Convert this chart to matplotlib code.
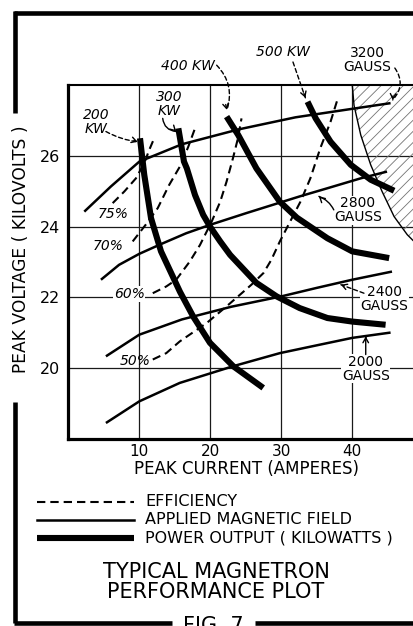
import matplotlib
matplotlib.use('Agg')
import matplotlib.pyplot as plt
from matplotlib.lines import Line2D

plt.rcParams['font.family'] = ['DejaVu Sans']
plt.rcParams['hatch.linewidth'] = 0.6

# ---------------- data ----------------
x_ticks = [10, 20, 30, 40]
y_ticks = [20, 22, 24, 26]

# applied magnetic field (gauss) curves: x = peak current (A), y = peak voltage (kV)
g3200_x = [2.25, 6.0, 10.0, 16.0, 24.0, 32.0, 39.0, 45.4]
g3200_y = [24.42, 25.13, 25.83, 26.32, 26.74, 27.08, 27.29, 27.48]
g2800_x = [4.6, 7.15, 10.0, 13.0, 16.6, 20.0, 25.1, 32.6, 36.5, 41.2, 44.9]
g2800_y = [22.5, 22.92, 23.23, 23.5, 23.81, 24.05, 24.38, 24.85, 25.08, 25.36, 25.55]
g2400_x = [5.3, 10.0, 16.0, 23.0, 30.0, 35.0, 40.0, 45.6]
g2400_y = [20.34, 20.95, 21.38, 21.74, 22.03, 22.27, 22.5, 22.73]
g2000_x = [5.3, 10.0, 15.7, 23.2, 29.8, 35.0, 40.0, 45.4]
g2000_y = [18.46, 19.07, 19.59, 20.06, 20.43, 20.65, 20.86, 21.01]

# efficiency curves
e75_x = [6.25, 7.9, 9.53, 10.7, 11.4, 12.1]
e75_y = [24.66, 24.99, 25.36, 25.79, 26.16, 26.49]
e70_x = [9.07, 10.9, 12.6, 14.2, 15.8, 16.9, 17.85]
e70_y = [23.58, 24.05, 24.52, 25.17, 25.72, 26.25, 26.77]
e60_x = [11.9, 13.8, 15.2, 17.1, 18.55, 20.2, 21.4, 22.3, 23.2, 23.9, 24.4]
e60_y = [22.12, 22.31, 22.5, 23.01, 23.48, 24.14, 24.70, 25.27, 25.93, 26.49, 27.05]
e50_x = [11.9, 13.8, 15.7, 19.5, 22.3, 24.2, 25.8, 27.5, 28.6, 29.8, 32.7, 34.1, 35.5, 36.95, 37.9]
e50_y = [20.25, 20.43, 20.76, 21.28, 21.75, 22.08, 22.36, 22.69, 23.06, 23.58, 24.70, 25.36, 26.21, 26.96, 27.57]

# power output (kW) curves
p200_x = [10.1, 10.7, 11.65, 13.06, 15.73, 17.6, 19.96, 23.24, 27.46]
p200_y = [26.49, 25.46, 24.24, 23.30, 22.16, 21.46, 20.72, 20.06, 19.45]
p300_x = [15.5, 16.3, 16.7, 17.85, 19.0, 19.96, 21.4, 22.8, 26.5, 29.35, 32.6, 36.5, 40.0, 44.7]
p300_y = [26.77, 25.83, 25.64, 24.89, 24.33, 24.0, 23.58, 23.20, 22.41, 22.03, 21.70, 21.42, 21.32, 21.23]
p400_x = [22.3, 23.94, 26.5, 29.8, 32.2, 36.5, 40.0, 45.2]
p400_y = [27.10, 26.58, 25.64, 24.70, 24.25, 23.67, 23.30, 23.11]
p500_x = [33.7, 34.85, 36.95, 39.8, 42.6, 45.9]
p500_y = [27.52, 27.05, 26.39, 25.74, 25.32, 25.01]

# hatched (forbidden) region boundary
lim_x = [40.0, 40.25, 41.2, 42.6, 44.2, 45.9, 47.75, 48.7]
lim_y = [28.0, 27.42, 26.58, 25.74, 24.99, 24.28, 23.77, 23.58]

# ---------------- figure ----------------
W, H = 414, 626
fig = plt.figure(figsize=(W / 100, H / 100), dpi=100)


def fx(px):
    return px / W


def fy(py):
    return 1 - py / H


ax = fig.add_axes([fx(68.3), fy(439.3), fx(414) - fx(68.3), fy(84.7) - fy(439.3)])
ax.set_xlim(0, 48.7)
ax.set_ylim(18, 28)
ax.set_xticks(x_ticks)
ax.set_yticks(y_ticks)
ax.tick_params(axis='x', length=0, labelsize=11, pad=3.5)
ax.tick_params(axis='y', length=0, labelsize=11.5, pad=6)
ax.grid(True, color='0.1', lw=0.9, zorder=0.5)
ax.set_axisbelow(True)
ax.spines['right'].set_visible(False)
ax.spines['left'].set_linewidth(2.3)
ax.spines['bottom'].set_linewidth(2.3)
ax.spines['top'].set_linewidth(1.5)

# hatched region
ax.fill_betweenx(lim_y, lim_x, 50, facecolor='none', edgecolor='0.45',
                 hatch='///', linewidth=0, zorder=1)
ax.plot(lim_x, lim_y, color='k', lw=1.0, zorder=1.5)

thin = dict(color='k', lw=1.8, solid_capstyle='butt', solid_joinstyle='round', zorder=2)
dash = dict(color='k', lw=1.5, linestyle=(0, (4, 2.4)), dash_capstyle='butt', zorder=2)
thick = dict(color='k', lw=4.4, solid_capstyle='butt', solid_joinstyle='round', zorder=3)

for xs, ys in [(g3200_x, g3200_y), (g2800_x, g2800_y), (g2400_x, g2400_y), (g2000_x, g2000_y)]:
    ax.plot(xs, ys, **thin)
for xs, ys in [(e75_x, e75_y), (e70_x, e70_y), (e60_x, e60_y), (e50_x, e50_y)]:
    ax.plot(xs, ys, **dash)
for xs, ys in [(p200_x, p200_y), (p300_x, p300_y), (p400_x, p400_y), (p500_x, p500_y)]:
    ax.plot(xs, ys, **thick)

# labels inside / around plot
lab = dict(fontsize=10, ha='center', va='center', zorder=5, clip_on=False,
           linespacing=1.0)
wbox = dict(facecolor='white', edgecolor='none', pad=0.5)
ax.text(3.9, 26.95, '200\nKW', style='italic', **lab)
ax.text(14.2, 27.46, '300\nKW', style='italic', **lab)
ax.text(16.9, 28.53, '400 KW', style='italic', **lab)
ax.text(30.3, 28.92, '500 KW', style='italic', **lab)
ax.text(42.1, 28.70, '3200\nGAUSS', **lab)
ax.text(40.8, 24.46, '2800\nGAUSS', bbox=wbox, **lab)
ax.text(44.5, 21.96, '2400\nGAUSS', bbox=wbox, **lab)
ax.text(41.9, 19.99, '2000\nGAUSS', bbox=wbox, **lab)
ax.text(6.37, 24.35, '75%', style='italic', **lab)
ax.text(5.55, 23.46, '70%', style='italic', **lab)
ax.text(8.6, 22.1, '60%', style='italic', bbox=wbox, **lab)
ax.text(9.42, 20.22, '50%', style='italic', **lab)


def pointer(start, end, dashed=False, rad=0.0):
    cs = f'arc3,rad={rad}'
    if dashed:
        ax.annotate('', xy=end, xytext=start, annotation_clip=False,
                    arrowprops=dict(arrowstyle='-', linestyle=(0, (3, 2)), lw=1.0,
                                    color='k', connectionstyle=cs,
                                    shrinkA=0, shrinkB=0), zorder=5)
    else:
        ax.annotate('', xy=end, xytext=start, annotation_clip=False,
                    arrowprops=dict(arrowstyle='-', lw=1.0, color='k',
                                    connectionstyle=cs, shrinkA=0, shrinkB=0), zorder=5)
    back = (end[0] - 0.12 * (end[0] - start[0]), end[1] - 0.12 * (end[1] - start[1]))
    ax.annotate('', xy=end, xytext=back, annotation_clip=False,
                arrowprops=dict(arrowstyle='->,head_length=0.35,head_width=0.2',
                                lw=1.0, color='k', shrinkA=0, shrinkB=0), zorder=5)


pointer((5.3, 26.68), (9.77, 26.39), dashed=True, rad=0.1)
pointer((13.3, 27.05), (15.2, 26.68), dashed=False, rad=0.4)
pointer((20.9, 28.55), (22.35, 27.29), dashed=True, rad=-0.3)
pointer((31.65, 28.64), (33.4, 27.63), dashed=True, rad=0.0)
pointer((46.0, 28.47), (45.7, 27.57), dashed=True, rad=-0.4)
pointer((37.4, 24.47), (35.3, 24.85), dashed=False, rad=0.2)
pointer((41.65, 22.12), (38.4, 22.36), dashed=True, rad=0.0)
pointer((41.9, 20.39), (41.9, 20.90), dashed=False, rad=0.0)

# axis titles
fig.text(fx(247), fy(469), 'PEAK CURRENT (AMPERES)', fontsize=12,
         ha='center', va='center')
fig.text(fx(21), fy(249), 'PEAK VOLTAGE ( KILOVOLTS )', fontsize=12.3,
         rotation=90, ha='center', va='center')

# legend
for py, kw in [(502, dict(lw=1.5, linestyle=(0, (4, 2.4)))),
               (520, dict(lw=1.8)),
               (538, dict(lw=4.4, solid_capstyle='butt'))]:
    fig.add_artist(Line2D([fx(37), fx(134)], [fy(py), fy(py)], color='k',
                          transform=fig.transFigure, **kw))
leg_texts = ['EFFICIENCY', 'APPLIED MAGNETIC FIELD', 'POWER OUTPUT ( KILOWATTS )']
for py, t in zip([502, 520, 538], leg_texts):
    fig.text(fx(145), fy(py), t, fontsize=11.5, ha='left', va='center')

# caption
fig.text(fx(216), fy(572.5), 'TYPICAL MAGNETRON', fontsize=15, ha='center', va='center')
fig.text(fx(216), fy(592.5), 'PERFORMANCE PLOT', fontsize=15, ha='center', va='center')
fig.text(fx(213), fy(616), 'FIG. 7', fontsize=15, ha='center', va='top')

# outer frame
frame = [((14, 12.5), (414, 12.5)),
         ((15, 11), (15, 113)),
         ((15, 402), (15, 623)),
         ((14, 622.5), (172, 622.5)),
         ((255, 622.5), (414, 622.5))]
for (x0, y0), (x1, y1) in frame:
    fig.add_artist(Line2D([fx(x0), fx(x1)], [fy(y0), fy(y1)], color='k', lw=3.3,
                          solid_capstyle='butt', transform=fig.transFigure))

fig.savefig('out.png', dpi=100)
